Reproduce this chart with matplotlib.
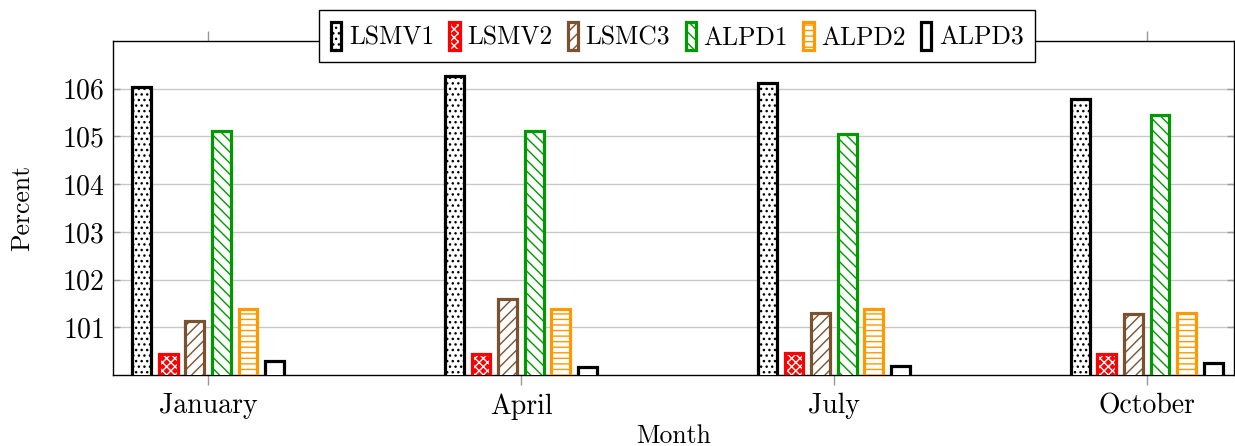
import numpy as np
import matplotlib
matplotlib.use("Agg")
import matplotlib.pyplot as plt

plt.rcParams['font.family'] = 'serif'
plt.rcParams['font.serif'] = ['cmr10']
plt.rcParams['axes.formatter.use_mathtext'] = True
plt.rcParams['hatch.linewidth'] = 1.0

months = ["January", "April", "July", "October"]
month_num = [1, 4, 7, 10]
series = ["LSMV1", "LSMV2", "LSMC3", "ALPD1", "ALPD2", "ALPD3"]

lsmv1 = [106.04, 106.26, 106.12, 105.79]
lsmv2 = [100.44, 100.44, 100.47, 100.44]
lsmc3 = [101.13, 101.60, 101.30, 101.27]
alpd1 = [105.12, 105.11, 105.06, 105.44]
alpd2 = [101.38, 101.38, 101.38, 101.30]
alpd3 = [100.30, 100.17, 100.20, 100.26]

values = [lsmv1, lsmv2, lsmc3, alpd1, alpd2, alpd3]
colors = ["black", "#ff0000", "#7a5230", "#009900", "#ff9900", "black"]
hatches = ["...", "xxxx", "///", "\\\\\\", "---", None]

fig, ax = plt.subplots(figsize=(12.35, 4.46), dpi=100)
fig.subplots_adjust(left=0.0915, right=0.999, bottom=0.159, top=0.908)

x = np.array(month_num, dtype=float)
step = 0.255
w = 0.18
lw = 2.3
handles = []
for i, (name, vals, c, h) in enumerate(zip(series, values, colors, hatches)):
    xi = x + (i - 2.5) * step
    if name == "LSMV2":
        # red fill with white cross pattern, then red outline
        b1 = ax.bar(xi, vals, w, color=c, edgecolor="white", hatch=h, linewidth=0, zorder=3)
        b2 = ax.bar(xi, vals, w, facecolor="none", edgecolor=c, linewidth=lw, zorder=4)
        handles.append((b1, b2))
    else:
        b = ax.bar(xi, vals, w, facecolor="white", edgecolor=c, hatch=h, linewidth=lw, zorder=3)
        handles.append(b)

ax.set_ylim(100, 107)
ax.set_xlim(0.089, 10.834)
ax.set_xticks(month_num)
ax.set_xticklabels(months)
ax.set_yticks([101, 102, 103, 104, 105, 106])
ax.tick_params(axis='x', which='both', direction='out', length=7, width=1, color='#999999',
               top=True, labelsize=20, pad=6)
ax.tick_params(axis='y', which='both', direction='in', length=5, width=1, color='#999999',
               right=True, labelsize=20, pad=6)
ax.yaxis.grid(True, color='#c8c8c8', linewidth=1.0, zorder=0)
ax.set_axisbelow(True)
for s in ax.spines.values():
    s.set_linewidth(1.0)
    s.set_color('black')

ax.set_xlabel("Month", fontsize=18.5, labelpad=3)
ax.set_ylabel("Percent", fontsize=18.5, labelpad=20)

leg = ax.legend(handles, series, loc='center', bbox_to_anchor=(0.5036, 1.015), ncol=6,
                fontsize=18.4, frameon=True, fancybox=False, framealpha=1,
                edgecolor='black', handlelength=0.4, handleheight=1.35,
                handletextpad=0.3, columnspacing=0.6, borderpad=0.45,
                borderaxespad=0)
leg.get_frame().set_linewidth(1.0)
leg.set_zorder(10)

plt.savefig("out.png", dpi=100)
